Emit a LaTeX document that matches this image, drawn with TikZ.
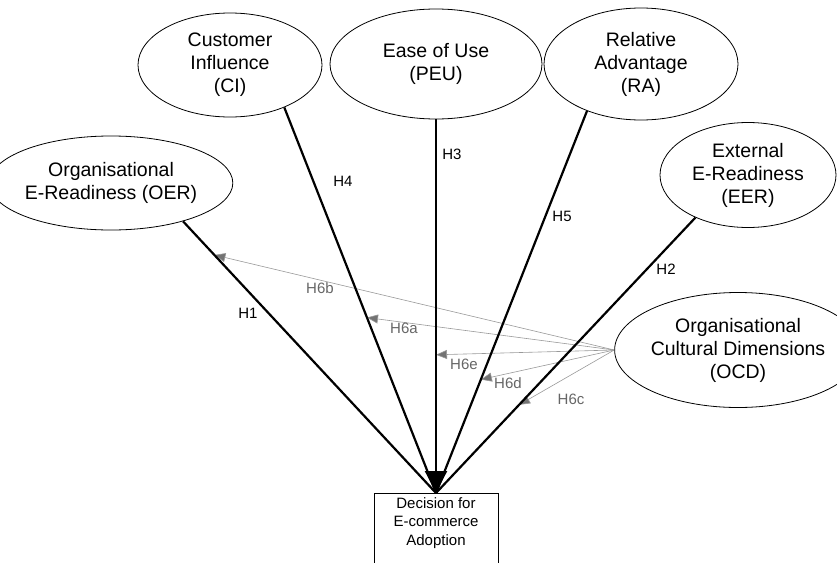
\documentclass[tikz,border=0pt]{standalone}
\usepackage{fontspec}
\setmainfont{Liberation Sans}
\usetikzlibrary{shapes.geometric,arrows.meta,calc}
\begin{document}
\begin{tikzpicture}[x=1pt,y=-1pt,
  construct/.style={draw=black, line width=0.8pt, ellipse, inner sep=0pt,
    align=center, font=\fontsize{19.5}{23}\selectfont},
  hypo/.style={line width=2.2pt},
  hypotip/.style={hypo, -{Triangle[length=22pt,width=22pt]}},
  moderator/.style={draw=black!40, line width=0.6pt,
    -{Triangle[length=11pt,width=9pt,fill=black!55]}},
  hlabel/.style={font=\fontsize{15}{18}\selectfont, inner sep=0pt},
  mlabel/.style={hlabel, text=black!60},
]
\useasboundingbox (0,0) rectangle (837,562);
\clip (0,0) rectangle (837,562);

% constructs
\node[construct, minimum width=200pt, minimum height=94pt]  (oer) at (111,183) {Organisational\\E-Readiness (OER)};
\node[construct, minimum width=184pt, minimum height=104pt] (ci)  at (230,65)  {Customer\\Influence\\(CI)};
\node[construct, minimum width=212pt, minimum height=110pt] (peu) at (436,64)  {Ease of Use\\(PEU)};
\node[construct, minimum width=194pt, minimum height=112pt] (ra)  at (641,64)  {Relative\\Advantage\\(RA)};
\node[construct, minimum width=176pt, minimum height=105pt] (eer) at (748,175) {External\\E-Readiness\\(EER)};
\node[construct, minimum width=192pt, minimum height=115pt] (ocd) at (738,350) {Organisational\\Cultural Dimensions\\(OCD)};

% outcome box
\node[draw, line width=0.8pt, minimum width=124pt, minimum height=100pt,
      anchor=north, inner sep=0pt] (decision) at (436,493) {};
\node[font=\fontsize{15}{18.5}\selectfont, align=center, anchor=north,
      inner sep=0pt] (decisiontext) at ([yshift=-4pt]decision.north)
      {Decision for\\E-commerce\\Adoption};

% points where the moderating paths meet the direct paths
\coordinate (m6b) at ($(oer.-28)!0.124!(decision.north)$);
\coordinate (m6a) at ($(ci.-38.4)!0.545!(decision.north)$);
\coordinate (m6e) at ($(peu.south)!0.63!(decision.north)$);
\coordinate (m6d) at ($(ra.221.6)!0.703!(decision.north)$);
\coordinate (m6c) at ($(eer.219.1)!0.68!(decision.north)$);

% moderating paths
\draw[moderator] (ocd.west) -- (m6b);
\draw[moderator] (ocd.west) -- (m6a);
\draw[moderator] (ocd.west) -- (m6e);
\draw[moderator] (ocd.west) -- (m6d);
\draw[moderator] (ocd.west) -- (m6c);

% direct paths, meeting under one arrowhead
\draw[hypo] (oer.-28)   -- (decision.north);
\draw[hypo] (ci.-38.4)  -- (decision.north);
\draw[hypo] (ra.221.6)  -- (decision.north);
\draw[hypo] (eer.219.1) -- (decision.north);
\draw[hypotip] (peu.south) -- (decision.north);

% hypothesis labels
\node[hlabel] (h1) at (248,313) {H1};
\node[hlabel] (h4) at (343,181) {H4};
\node[hlabel] (h3) at (452,154) {H3};
\node[hlabel] (h5) at (562,216) {H5};
\node[hlabel] (h2) at (666,269) {H2};

\node[mlabel] (h6b) at (320,288) {H6b};
\node[mlabel] (h6a) at (404,328) {H6a};
\node[mlabel] (h6e) at (464,364) {H6e};
\node[mlabel] (h6d) at (508,383) {H6d};
\node[mlabel] (h6c) at (571,399) {H6c};
\end{tikzpicture}
\end{document}
